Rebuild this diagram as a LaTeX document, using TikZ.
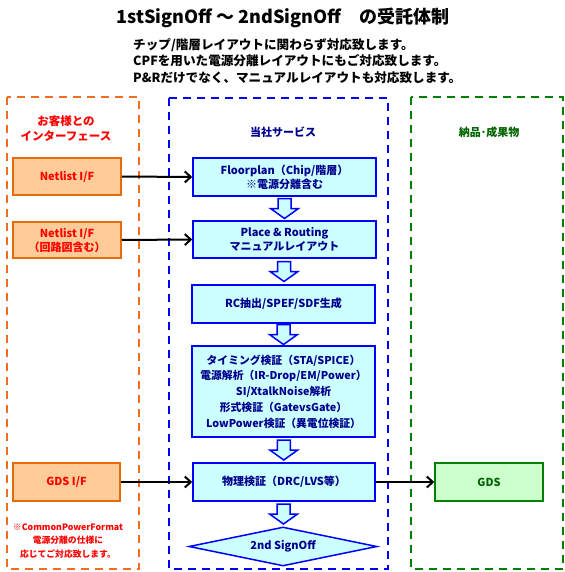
\documentclass[tikz,border=0pt]{standalone}
\usepackage{fontspec}
\setmainfont{Noto Sans CJK JP}
\usetikzlibrary{shapes.geometric,arrows.meta,calc}
\definecolor{oline}{RGB}{240,110,30}
\definecolor{ofill}{RGB}{255,204,153}
\definecolor{oborder}{RGB}{228,108,10}
\definecolor{otext}{RGB}{255,0,0}
\definecolor{bline}{RGB}{0,0,255}
\definecolor{bfill}{RGB}{204,255,255}
\definecolor{btext}{RGB}{0,0,140}
\definecolor{gline}{RGB}{0,128,0}
\definecolor{gfill}{RGB}{204,255,204}
\definecolor{gtext}{RGB}{0,100,0}
\tikzset{
  x=1pt,y=-1pt,
  zone/.style={line width=2pt, dash pattern=on 8pt off 6pt},
  obox/.style={draw=oborder, fill=ofill, line width=1.5pt, text=otext, font=\bfseries\fontsize{11}{14}\selectfont, align=center, inner sep=0pt},
  bbox/.style={draw=bline, fill=bfill, line width=1.5pt, text=btext, font=\bfseries\fontsize{11}{14}\selectfont, align=center, inner sep=0pt},
  gbox/.style={draw=gline, fill=gfill, line width=1.5pt, text=gtext, font=\bfseries\fontsize{11}{14}\selectfont, align=center, inner sep=0pt},
  conn/.style={draw=black, line width=2pt, -{Straight Barb[length=6pt,width=11pt,line width=2pt]}},
  hollow/.pic={\draw[bline, fill=bfill, line width=1.5pt, line join=miter]
     (-6.5,-10) -- (6.5,-10) -- (6.5,0) -- (14,0) -- (0,10) -- (-14,0) -- (-6.5,0) -- cycle;}
}
\begin{document}
\begin{tikzpicture}
\useasboundingbox (0,0) rectangle (564,572);
% title
\node (title) at (283,18) {\bfseries\fontsize{18}{20}\selectfont 1stSignOff ～ 2ndSignOff　の受託体制};
\node (sub) [anchor=north west, align=left, font=\bfseries\fontsize{12.6}{16.5}\selectfont, inner sep=0pt] at (133,38)
 {チップ/階層レイアウトに関わらず対応致します。\\CPFを用いた電源分離レイアウトにもご対応致します。\\P\&Rだけでなく、マニュアルレイアウトも対応致します。};
% zones
\draw[zone, oline] (7,97) rectangle (139,569);
\draw[zone, bline] (169,98) rectangle (388,569);
\draw[zone, gline] (411,97) rectangle (563,569);
% headers
\node (ohead) [text=otext, font=\bfseries\fontsize{11.5}{15}\selectfont, align=center] at (66,129) {お客様との\\インターフェース};
\node (bhead) [text=btext, font=\bfseries\fontsize{11}{14}\selectfont] at (283,132) {当社サービス};
\node (ghead) [text=gtext, font=\bfseries\fontsize{11}{14}\selectfont] at (489,132) {納品･成果物};
% left boxes
\node (n1) [obox, minimum width=108pt, minimum height=37pt] at (67,176.5) {Netlist I/F};
\node (n2) [obox, minimum width=108pt, minimum height=36pt] at (67,240) {Netlist I/F\\（回路図含む）};
\node (gif) [obox, minimum width=107pt, minimum height=38pt] at (66.5,482) {GDS I/F};
\node (note) [text=otext, font=\bfseries\fontsize{8.8}{13.5}\selectfont, align=center] at (68,541) {※CommonPowerFormat\\電源分離の仕様に\\応じてご対応致します。};
% center boxes
\node (fp) [bbox, minimum width=183pt, minimum height=38pt] at (284.5,177) {Floorplan（Chip/階層）\\※電源分離含む};
\node (pr) [bbox, minimum width=183pt, minimum height=37pt] at (284.5,239.5) {Place \& Routing\\マニュアルレイアウト};
\node (rc) [bbox, minimum width=183pt, minimum height=38pt] at (283.5,304) {RC抽出/SPEF/SDF生成};
\node (big) [bbox, minimum width=183pt, minimum height=91pt, font=\bfseries\fontsize{10.8}{15.8}\selectfont] at (283.5,391.5)
 {タイミング検証（STA/SPICE）\\電源解析（IR-Drop/EM/Power）\\SI/XtalkNoise解析\\形式検証（GatevsGate）\\LowPower検証（異電位検証）};
\node (ph) [bbox, minimum width=182pt, minimum height=38pt] at (284,482) {物理検証（DRC/LVS等）};
\node (so) [diamond, aspect=4.8, draw=bline, fill=bfill, line width=1.5pt, text=btext, font=\bfseries\fontsize{11}{14}\selectfont, minimum width=188pt, minimum height=39pt, inner sep=0pt] at (283,546.5) {2nd SignOff};
% right box
\node (gds) [gbox, minimum width=108pt, minimum height=38pt] at (489,482) {GDS};
% hollow arrows
\pic at ($(fp.south)!0.5!(pr.north)$) {hollow};
\pic at ($(pr.south)!0.5!(rc.north)$) {hollow};
\pic at ($(rc.south)!0.5!(big.north)$) {hollow};
\pic at ($(big.south)!0.5!(ph.north)$) {hollow};
\pic at ($(ph.south)!0.5!(so.north)$) {hollow};
% connectors
\draw[conn] (n1.east) -- (fp.west);
\draw[conn] (n2.east) -- (pr.west);
\draw[conn] (gif.east) -- (ph.west);
\draw[conn] (ph.east) -- (gds.west);
\end{tikzpicture}
\end{document}
